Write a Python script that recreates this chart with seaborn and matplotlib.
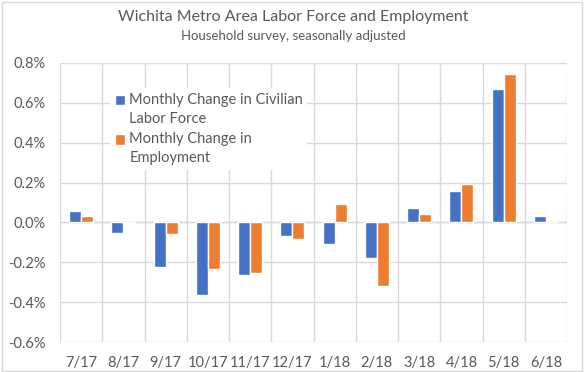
import matplotlib
matplotlib.use("Agg")
import matplotlib.pyplot as plt
import seaborn as sns
import pandas as pd
import numpy as np
from matplotlib.ticker import FuncFormatter, FixedLocator
from matplotlib.patches import Rectangle
from matplotlib.container import BarContainer
from matplotlib.legend_handler import HandlerPatch, update_from_first_child

months = ["7/17", "8/17", "9/17", "10/17", "11/17", "12/17",
          "1/18", "2/18", "3/18", "4/18", "5/18", "6/18"]
labor_force = [0.058, -0.051, -0.222, -0.363, -0.262, -0.066,
               -0.110, -0.177, 0.073, 0.158, 0.671, 0.034]
employment = [0.034, -0.005, -0.056, -0.232, -0.252, -0.081,
              0.093, -0.318, 0.043, 0.193, 0.743, 0.0]
series_names = ["Monthly Change in Civilian\nLabor Force",
                "Monthly Change in\nEmployment"]
yticks = [-0.6, -0.4, -0.2, 0.0, 0.2, 0.4, 0.6, 0.8]

df = pd.DataFrame({
    "month": months * 2,
    "value": labor_force + employment,
    "series": [series_names[0]] * len(months) + [series_names[1]] * len(months),
})

sns.set_theme(style="white")
plt.rcParams["font.family"] = ["Lato", "DejaVu Sans"]
text_color = "#595959"
grid_color = "#D9D9D9"

fig = plt.figure(figsize=(5.86, 3.72), dpi=100)
ax = fig.add_axes([60 / 586, 1 - 342 / 372, (567 - 60) / 586, (342 - 63) / 372])

sns.barplot(data=df, x="month", y="value", hue="series", order=months,
            hue_order=series_names, palette=["#4472C4", "#ED7D31"],
            width=0.57, ax=ax, zorder=3, saturation=1)

ax.set_ylim(-0.6, 0.8)
ax.set_xlim(-0.5, len(months) - 0.5)
ax.yaxis.set_major_locator(FixedLocator(yticks))
ax.yaxis.set_major_formatter(FuncFormatter(lambda v, p: f"{v:.1f}%"))
ax.set_xticks(np.arange(-0.5, len(months), 1.0), minor=True)
ax.grid(True, axis="y", color=grid_color, linewidth=1, zorder=0)
ax.grid(True, axis="x", which="minor", color=grid_color, linewidth=1, zorder=0)
ax.grid(False, axis="x", which="major")
ax.set_axisbelow(True)
for s in ax.spines.values():
    s.set_visible(False)
ax.axhline(0, color=grid_color, linewidth=1, zorder=2)
ax.set_xlabel("")
ax.set_ylabel("")
ax.tick_params(axis="both", which="both", length=0, labelsize=10.5, colors=text_color)
ax.tick_params(axis="x", pad=10)
ax.tick_params(axis="y", pad=10)

SHIFT = 7.0


def top_square(legend, orig_handle, xdescent, ydescent, width, height, fontsize):
    return Rectangle((-xdescent, -ydescent + SHIFT), width, height)


handler_bar = HandlerPatch(patch_func=top_square, update_func=update_from_first_child)
handler_rect = HandlerPatch(patch_func=top_square)

leg = ax.legend(loc="upper left", bbox_to_anchor=(0.085, 0.935), frameon=True,
                facecolor="white", edgecolor="none", framealpha=1,
                fontsize=10.5, handlelength=0.7, handleheight=0.7, handletextpad=0.3,
                labelspacing=0.45, borderpad=0.3,
                handler_map={BarContainer: handler_bar, Rectangle: handler_rect})
for t in leg.get_texts():
    t.set_color(text_color)
    t.set_linespacing(1.45)
leg.set_zorder(5)

fig.text(0.5, 1 - 17 / 372, "Wichita Metro Area Labor Force and Employment",
         ha="center", va="center", fontsize=11.5, color=text_color)
fig.text(0.5, 1 - 36 / 372, "Household survey, seasonally adjusted",
         ha="center", va="center", fontsize=9.5, color=text_color)

fig.patches.append(Rectangle((2 / 586, 1 / 372), 580 / 586, 369 / 372,
                             transform=fig.transFigure, fill=False,
                             edgecolor="#D9D9D9", linewidth=1))

fig.savefig("out.png", dpi=100)
